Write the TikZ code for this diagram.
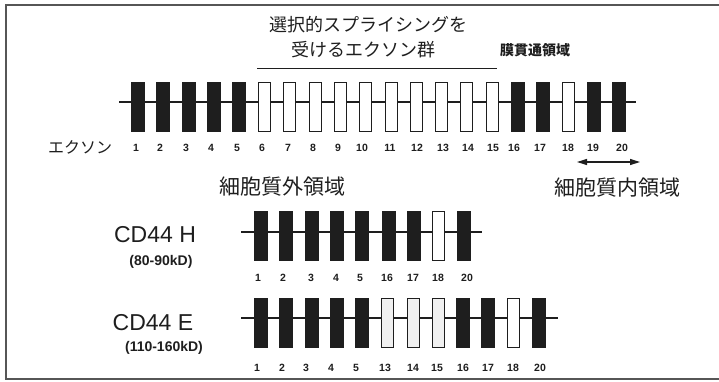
\documentclass[tikz,border=0pt]{standalone}
\usepackage{fontspec}
\setmainfont{Liberation Sans}
\newfontfamily\jp{Noto Sans CJK JP}
\usetikzlibrary{arrows.meta}
\definecolor{ink}{HTML}{1E1E1E}
\begin{document}
\begin{tikzpicture}[x=1pt,y=-1pt,
 exb/.style={draw=ink,fill=ink,minimum width=13pt,minimum height=49pt,inner sep=0pt,line width=0.8pt},
 exw/.style={draw=ink,fill=white,minimum width=12pt,minimum height=49pt,inner sep=0pt,line width=0.9pt},
 exs/.style={exw,fill=gray!12},
 num/.style={font=\bfseries\fontsize{10.5}{12}\selectfont,inner sep=0pt,text=ink},
 bb/.style={draw=ink,line width=1.1pt},
 jpbig/.style={font=\jp\fontsize{21}{24}\selectfont,text=ink,inner sep=0pt},
 jpmid/.style={font=\jp\fontsize{18}{22}\selectfont,text=ink,inner sep=0pt},
 cdname/.style={font=\fontsize{23}{26}\selectfont,text=ink,inner sep=0pt},
 cdkd/.style={font=\bfseries\fontsize{14}{16}\selectfont,text=ink,inner sep=0pt}]
\useasboundingbox (0,0) rectangle (719,381);
% frame
\draw[line width=1.6pt,ink!75] (719,5) -- (6,5) -- (6,379) -- (719,379);

% titles
\node[jpmid] (t1) at (368,25) {選択的スプライシングを};
\node[jpmid] (t2) at (363,50) {受けるエクソン群};
\coordinate (ulL) at (257,68);
\coordinate (ulR) at (497,68);
\draw[ink,line width=1pt] (ulL) -- (ulR);
\node[font=\jp\bfseries\fontsize{14}{16}\selectfont,text=ink,inner sep=0pt] (tm) at (535,50) {膜貫通領域};

% top row
\coordinate (rL) at (119,102);
\coordinate (rR) at (636,102);
\draw[bb] (rL) -- (rR);
\foreach \i/\s in {1/exb,2/exb,3/exb,4/exb,5/exb,6/exw,7/exw,8/exw,9/exw,10/exw,11/exw,12/exw,13/exw,14/exw,15/exw,16/exb,17/exb,18/exw,19/exb,20/exb}
  \node[\s] (e\i) at ({138+25.3*(\i-1)},107) {};
\node[font=\jp\fontsize{16}{18}\selectfont,text=ink,inner sep=0pt] (ex) at (80,147) {エクソン};
\foreach \i/\x in {1/136,2/160,3/186,4/211,5/237,6/262,7/288,8/313,9/338,10/362,11/390,12/417,13/443,14/468,15/493,16/514,17/540,18/568,19/593,20/622}
  \node[num] (n\i) at (\x,148) {\i};

% arrow and region labels
\coordinate (aL) at (577,162);
\coordinate (aR) at (640,162);
\draw[ink,line width=1.3pt,{Triangle[length=10pt,width=6pt]}-{Triangle[length=10pt,width=6pt]}] (aL) -- (aR);
\node[jpbig] (ext) at (282,187) {細胞質外領域};
\node[jpbig] (int) at (617,188) {細胞質内領域};

% CD44 H
\node[cdname] (hn) at (155,235) {CD44 H};
\node[cdkd] (hk) at (161,262) {(80-90kD)};
\coordinate (hL) at (241,232);
\coordinate (hR) at (482,232);
\draw[bb] (hL) -- (hR);
\foreach \k/\x/\s in {1/260.5/exb,2/285.5/exb,3/311.5/exb,4/337/exb,5/361.5/exb,6/388.5/exb,7/413.5/exb,8/438.5/exw,9/463.5/exb}
  \node[\s] (h\k) at (\x,235.5) {};
\foreach \k/\x/\t in {1/258/1,2/283/2,3/311/3,4/336/4,5/360/5,6/387/16,7/413/17,8/438/18,9/467/20}
  \node[num] (hnum\k) at (\x,278) {\t};

% CD44 E
\node[cdname] (en) at (153,323) {CD44 E};
\node[cdkd] (ek) at (164,348) {(110-160kD)};
\coordinate (eL) at (241,318);
\coordinate (eR) at (558,318);
\draw[bb] (eL) -- (eR);
\foreach \k/\x/\s in {1/260.5/exb,2/285.5/exb,3/311.5/exb,4/337/exb,5/361.5/exb,6/387.5/exs,7/413.5/exs,8/438/exs,9/463/exb,10/488/exb,11/513/exw,12/538.5/exb}
  \node[\s] (c\k) at (\x,323) {};
\foreach \k/\x/\t in {1/257/1,2/282/2,3/306/3,4/331/4,5/356/5,6/385/13,7/413/14,8/437/15,9/463/16,10/488/17,11/513/18,12/540/20}
  \node[num] (cnum\k) at (\x,368) {\t};
\end{tikzpicture}
\end{document}
